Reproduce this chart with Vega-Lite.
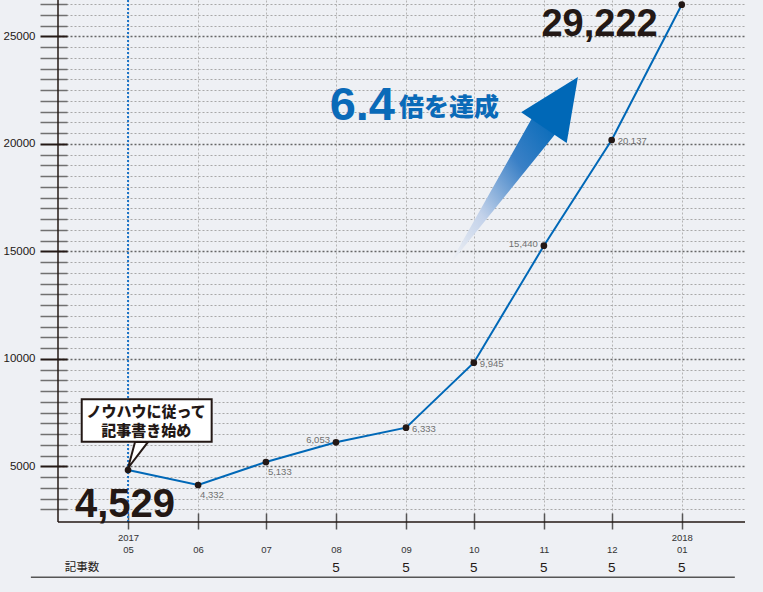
{
  "$schema": "https://vega.github.io/schema/vega-lite/v6.json",
  "width": 687,
  "height": 522,
  "autosize": {"type": "none"},
  "padding": {"left": 58, "top": 0, "right": 18, "bottom": 70},
  "background": "#eef0f4",
  "config": {"view": {"stroke": null}, "font": "Liberation Sans"},
  "data": {"values": [{}]},
  "datasets": {
    "pv": [
      {"month": "2017-05-01", "pv": 4828, "label": "4,529", "articles": null},
      {"month": "2017-06-01", "pv": 4130, "label": "4,332", "articles": null},
      {"month": "2017-07-01", "pv": 5200, "label": "5,133", "articles": null},
      {"month": "2017-08-01", "pv": 6116, "label": "6,053", "articles": 5},
      {"month": "2017-09-01", "pv": 6795, "label": "6,333", "articles": 5},
      {"month": "2017-10-01", "pv": 9819, "label": "9,945", "articles": 5},
      {"month": "2017-11-01", "pv": 15260, "label": "15,440", "articles": 5},
      {"month": "2017-12-01", "pv": 20177, "label": "20,137", "articles": 5},
      {"month": "2018-01-01", "pv": 26470, "label": "29,222", "articles": 5}
    ],
    "arrow": [
      {"part": "tail", "date": "2017-09-21T07:00:00Z", "v": 14543},
      {"part": "neck", "date": "2017-10-31T14:00:00Z", "v": 20772}
    ]
  },
  "layer": [
    {
      "data": {"name": "pv"},
      "mark": {"type": "line", "color": "#0068b7", "strokeWidth": 2},
      "encoding": {
        "x": {
          "field": "month", "type": "temporal",
          "scale": {"type": "utc", "domain": [{"year": 2017, "month": 3, "date": 31, "utc": true}, {"year": 2018, "month": 1, "date": 29, "utc": true}]},
          "axis": {
            "title": null, "offset": -9, "domain": false, "tickCount": 100,
            "values": [
              {"year": 2017, "month": 5, "date": 1, "utc": true},
              {"year": 2017, "month": 6, "date": 1, "utc": true},
              {"year": 2017, "month": 7, "date": 1, "utc": true},
              {"year": 2017, "month": 8, "date": 1, "utc": true},
              {"year": 2017, "month": 9, "date": 1, "utc": true},
              {"year": 2017, "month": 10, "date": 1, "utc": true},
              {"year": 2017, "month": 11, "date": 1, "utc": true},
              {"year": 2017, "month": 12, "date": 1, "utc": true},
              {"year": 2018, "month": 1, "date": 1, "utc": true}
            ],
            "tickSize": 16, "tickColor": "#555555", "tickWidth": 1.5,
            "labelExpr": "(utcmonth(datum.value) == 4 || utcmonth(datum.value) == 0) ? [utcFormat(datum.value, '%Y'), utcFormat(datum.value, '%m')] : ['', utcFormat(datum.value, '%m')]",
            "labelFontSize": 9.5, "labelColor": "#333333", "labelLineHeight": 12, "labelPadding": 3,
            "labelFlush": false, "labelOverlap": false, "labelFont": "Liberation Sans",
            "gridColor": "#b5b5b5", "gridDash": [2, 2], "gridWidth": 1
          }
        },
        "y": {
          "field": "pv", "type": "quantitative",
          "scale": {"domain": [2409, 26688], "zero": false, "nice": false},
          "axis": {
            "title": null, "offset": -9, "domain": false, "tickCount": 100,
            "values": [3000,3500,4000,4500,5000,5500,6000,6500,7000,7500,8000,8500,9000,9500,10000,10500,11000,11500,12000,12500,13000,13500,14000,14500,15000,15500,16000,16500,17000,17500,18000,18500,19000,19500,20000,20500,21000,21500,22000,22500,23000,23500,24000,24500,25000,25500,26000,26500],
            "format": "d",
            "tickSize": 27,
            "tickColor": {"condition": {"test": "datum.value % 5000 === 0", "value": "#231815"}, "value": "#707070"},
            "tickWidth": {"condition": {"test": "datum.value % 5000 === 0", "value": 2}, "value": 1.5},
            "labelExpr": "datum.value % 5000 === 0 ? datum.label : ''",
            "labelFontSize": 11.5, "labelColor": "#231815", "labelPadding": 5, "labelOverlap": false, "labelFont": "Liberation Sans",
            "gridColor": {"condition": {"test": "datum.value % 5000 === 0", "value": "#666666"}, "value": "#a8a8a8"},
            "gridWidth": {"condition": {"test": "datum.value % 5000 === 0", "value": 1.6}, "value": 1},
            "gridDash": [2, 2]
          }
        }
      }
    },
    {
      "mark": {"type": "rule", "color": "#1a72c6", "strokeWidth": 2, "strokeDash": [2, 2]},
      "encoding": {"x": {"datum": {"year": 2017, "month": 5, "date": 1, "utc": true}}}
    },
    {
      "data": {"name": "arrow"},
      "mark": {
        "type": "trail",
        "fill": {"gradient": "linear", "x1": 0, "y1": 1, "x2": 1, "y2": 0,
          "stops": [
            {"offset": 0, "color": "#eef0f4"},
            {"offset": 0.3, "color": "#c3d2ea"},
            {"offset": 0.65, "color": "#3a80c6"},
            {"offset": 1, "color": "#0068b7"}
          ]}
      },
      "encoding": {
        "x": {"field": "date", "type": "temporal"},
        "y": {"field": "v", "type": "quantitative"},
        "order": {"field": "part", "sort": "descending"},
        "size": {"field": "part", "type": "ordinal", "scale": {"domain": ["tail", "neck"], "range": [1, 28]}, "legend": null}
      }
    },
    {
      "mark": {"type": "point", "shape": "M0,-1L0.786,0.74L-0.786,0.74Z", "size": 4900, "angle": 34, "filled": true, "fill": "#0068b7", "opacity": 1, "strokeWidth": 0},
      "encoding": {
        "x": {"datum": {"year": 2017, "month": 11, "date": 7, "hours": 10, "utc": true}},
        "y": {"datum": 21752}
      }
    },
    {
      "data": {"name": "pv"},
      "mark": {"type": "point", "filled": true, "color": "#231815", "size": 45, "opacity": 1},
      "encoding": {
        "x": {"field": "month", "type": "temporal"},
        "y": {"field": "pv", "type": "quantitative"}
      }
    },
    {
      "data": {"name": "pv"},
      "transform": [{"filter": "indexof(['2017-06-01','2017-07-01'], utcFormat(datum.month, '%Y-%m-%d')) >= 0"}],
      "mark": {"type": "text", "align": "left", "baseline": "top", "dx": 2, "dy": 5, "fontSize": 9.5, "font": "Liberation Sans", "color": "#707070"},
      "encoding": {
        "x": {"field": "month", "type": "temporal"},
        "y": {"field": "pv", "type": "quantitative"},
        "text": {"field": "label"}
      }
    },
    {
      "data": {"name": "pv"},
      "transform": [{"filter": "indexof(['2017-09-01','2017-10-01','2017-12-01'], utcFormat(datum.month, '%Y-%m-%d')) >= 0"}],
      "mark": {"type": "text", "align": "left", "baseline": "middle", "dx": 6, "dy": 1, "fontSize": 9.5, "font": "Liberation Sans", "color": "#707070"},
      "encoding": {
        "x": {"field": "month", "type": "temporal"},
        "y": {"field": "pv", "type": "quantitative"},
        "text": {"field": "label"}
      }
    },
    {
      "data": {"name": "pv"},
      "transform": [{"filter": "indexof(['2017-08-01','2017-11-01'], utcFormat(datum.month, '%Y-%m-%d')) >= 0"}],
      "mark": {"type": "text", "align": "right", "baseline": "middle", "dx": -6, "dy": -2, "fontSize": 9.5, "font": "Liberation Sans", "color": "#707070"},
      "encoding": {
        "x": {"field": "month", "type": "temporal"},
        "y": {"field": "pv", "type": "quantitative"},
        "text": {"field": "label"}
      }
    },
    {
      "data": {"name": "pv"},
      "transform": [{"filter": "utcFormat(datum.month, '%Y-%m-%d') == '2017-05-01'"}],
      "mark": {"type": "text", "align": "center", "baseline": "alphabetic", "dx": -3, "dy": 47, "fontSize": 40, "fontWeight": "bold", "font": "Liberation Sans", "color": "#231815"},
      "encoding": {
        "x": {"field": "month", "type": "temporal"},
        "y": {"field": "pv", "type": "quantitative"},
        "text": {"field": "label"}
      }
    },
    {
      "data": {"name": "pv"},
      "transform": [{"filter": "utcFormat(datum.month, '%Y-%m-%d') == '2018-01-01'"}],
      "mark": {"type": "text", "align": "right", "baseline": "alphabetic", "dx": -24, "dy": 31, "fontSize": 38, "fontWeight": "bold", "font": "Liberation Sans", "color": "#231815"},
      "encoding": {
        "x": {"field": "month", "type": "temporal"},
        "y": {"field": "pv", "type": "quantitative"},
        "text": {"field": "label"}
      }
    },
    {
      "mark": {"type": "text", "text": "6.4", "align": "right", "baseline": "alphabetic", "dx": -11, "fontSize": 47, "fontWeight": "bold", "font": "Liberation Sans", "color": "#0a6ab8"},
      "encoding": {
        "x": {"datum": {"year": 2017, "month": 9, "date": 1, "utc": true}},
        "y": {"datum": 21097}
      }
    },
    {
      "mark": {"type": "text", "text": "倍を達成", "align": "left", "baseline": "alphabetic", "dx": -7, "dy": -4, "fontSize": 25, "fontWeight": 900, "font": "Noto Sans CJK JP", "color": "#0a6ab8"},
      "encoding": {
        "x": {"datum": {"year": 2017, "month": 9, "date": 1, "utc": true}},
        "y": {"datum": 21097}
      }
    },
    {
      "mark": {"type": "point", "shape": "M-0.2,-0.867L0.667,-0.867L-0.667,0.867Z", "size": 900, "filled": true, "fill": "#ffffff", "stroke": "#231815", "strokeWidth": 2, "opacity": 1, "strokeJoin": "miter"},
      "encoding": {
        "x": {"datum": {"year": 2017, "month": 5, "date": 5, "hours": 10, "utc": true}},
        "y": {"datum": 5526}
      }
    },
    {
      "mark": {"type": "rect", "fill": "#ffffff", "stroke": "#231815", "strokeWidth": 2},
      "encoding": {
        "x": {"datum": {"year": 2017, "month": 4, "date": 10, "hours": 12, "utc": true}},
        "x2": {"datum": {"year": 2017, "month": 6, "date": 7, "utc": true}},
        "y": {"datum": 8115},
        "y2": {"datum": 6144}
      }
    },
    {
      "mark": {"type": "text", "text": ["ノウハウに従って", "記事書き始め"], "align": "center", "baseline": "middle", "dy": -8, "lineHeight": 19, "fontSize": 15, "fontWeight": 900, "font": "Noto Sans CJK JP", "color": "#231815"},
      "encoding": {
        "x": {"datum": {"year": 2017, "month": 5, "date": 9, "utc": true}},
        "y": {"datum": 7130}
      }
    },
    {
      "mark": {"type": "text", "text": "記事数", "align": "left", "baseline": "middle", "fontSize": 11.5, "font": "Noto Sans CJK JP", "color": "#231815"},
      "encoding": {
        "x": {"datum": {"year": 2017, "month": 4, "date": 3, "utc": true}},
        "y": {"datum": 270}
      }
    },
    {
      "data": {"name": "pv"},
      "transform": [{"filter": "datum.articles != null"}],
      "mark": {"type": "text", "align": "center", "baseline": "middle", "fontSize": 13.5, "font": "Liberation Sans", "color": "#231815"},
      "encoding": {
        "x": {"field": "month", "type": "temporal"},
        "y": {"datum": 270},
        "text": {"field": "articles"}
      }
    },
    {
      "mark": {"type": "rule", "color": "#555555", "strokeWidth": 1.5},
      "encoding": {
        "x": {"datum": {"year": 2017, "month": 3, "date": 19, "utc": true}},
        "x2": {"datum": {"year": 2018, "month": 1, "date": 24, "hours": 12, "utc": true}},
        "y": {"datum": -163}
      }
    },
    {
      "mark": {"type": "rule", "color": "#231815", "strokeWidth": 1.5},
      "encoding": {"x": {"datum": {"year": 2017, "month": 3, "date": 31, "utc": true}}}
    },
    {
      "mark": {"type": "rule", "color": "#231815", "strokeWidth": 1.5},
      "encoding": {"y": {"datum": 2409}}
    }
  ]
}
